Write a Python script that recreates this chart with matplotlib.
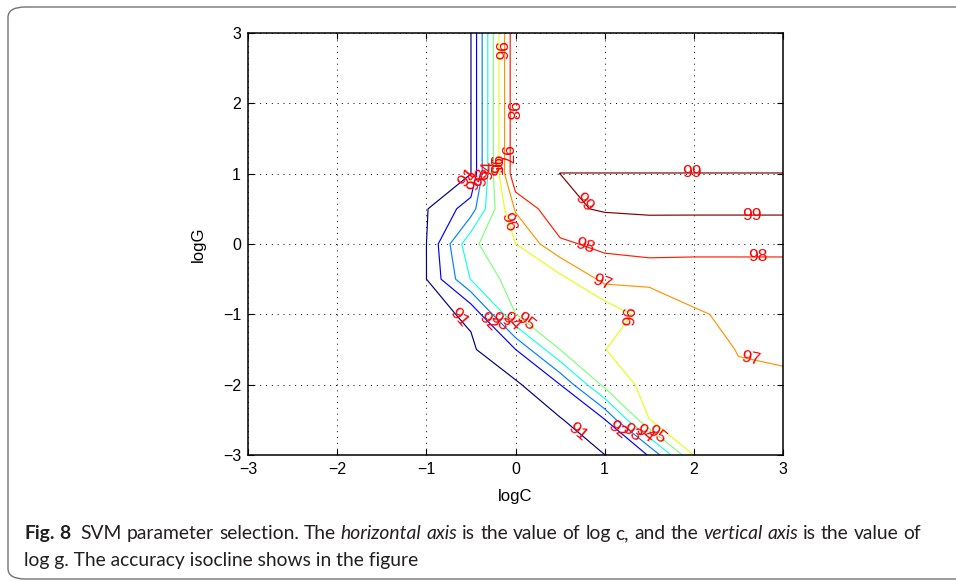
import numpy as np
import matplotlib.pyplot as plt
from matplotlib.patches import FancyBboxPatch

log_c = [-3.0, -2.5, -2.0, -1.5, -1.0, -0.5, 0.0, 0.5, 1.0, 1.5, 2.0, 2.5, 3.0]
log_g = [-3.0, -2.5, -2.0, -1.5, -1.0, -0.5, 0.0, 0.5, 1.0, 1.5, 2.0, 2.5, 3.0]

# accuracy (%) on the grid, one row per logG value (bottom to top)
acc_g_m30 = [85.5, 86.0, 86.5, 87.0, 88.0, 89.0, 89.8, 90.5, 90.99, 92.05, 96.02, 96.4, 96.5]
acc_g_m25 = [86.0, 86.5, 87.0, 87.5, 88.5, 89.5, 90.3, 90.92, 91.95, 95.99, 96.3, 96.6, 96.7]
acc_g_m20 = [86.5, 87.0, 87.5, 88.0, 89.0, 90.0, 90.84, 91.99, 95.3, 96.33, 96.5, 96.8, 96.89]
acc_g_m15 = [87.0, 87.5, 88.0, 89.0, 90.0, 90.86, 91.99, 95.01, 95.99, 96.3, 96.43, 97.05, 97.1]
acc_g_m10 = [87.5, 88.0, 88.5, 89.5, 90.73, 91.14, 94.99, 95.4, 95.21, 96.5, 96.9, 97.18, 97.2]
acc_g_m05 = [88.0, 88.5, 89.0, 90.0, 90.99, 94.05, 95.51, 95.68, 97.29, 97.15, 97.4, 97.4, 97.4]
acc_g_00 = [88.0, 88.5, 89.0, 90.0, 90.99, 94.78, 95.99, 97.82, 98.25, 98.55, 98.35, 98.35, 98.35]
acc_g_05 = [88.0, 88.5, 89.0, 90.0, 90.94, 92.5, 97.12, 98.84, 99.083, 99.1, 99.14, 99.14, 99.14]
acc_g_10 = [88.0, 88.5, 89.0, 89.5, 90.2, 90.99, 98.95, 99.001, 99.001, 99.001, 99.001, 99.001, 99.001]
acc_g_15 = [88.0, 88.5, 89.0, 89.5, 90.2, 90.99, 98.95, 98.95, 98.95, 98.95, 98.95, 98.95, 98.95]
acc_g_20 = [88.0, 88.5, 89.0, 89.5, 90.2, 90.99, 98.95, 98.95, 98.95, 98.95, 98.95, 98.95, 98.95]
acc_g_25 = [88.0, 88.5, 89.0, 89.5, 90.2, 90.99, 98.95, 98.95, 98.95, 98.95, 98.95, 98.95, 98.95]
acc_g_30 = [88.0, 88.5, 89.0, 89.5, 90.2, 90.99, 98.95, 98.95, 98.95, 98.95, 98.95, 98.95, 98.95]

levels = [91, 92, 93, 94, 95, 96, 97, 98, 99]
ticks = [-3, -2, -1, 0, 1, 2, 3]

# where the level labels sit (logC, logG)
label_pos = [
    (-0.55, 0.95), (-0.46, 0.9), (-0.385, 0.95), (-0.311, 1.05), (-0.248, 1.1), (-0.186, 1.15), (-0.118, 1.27),
    (-0.186, 2.75), (-0.06, 1.9),
    (-0.64, -1.05), (-0.31, -1.1), (-0.18, -1.1), (-0.05, -1.1), (0.1, -1.12),
    (-0.077, 0.32), (0.78, -0.03), (0.77, 0.6),
    (0.97, -0.55), (1.29, -1.03),
    (0.70, -2.67), (1.15, -2.64), (1.3, -2.68), (1.44, -2.7), (1.58, -2.71),
    (2.63, -1.64), (2.72, -0.18), (2.65, 0.41), (1.98, 1.01),
]

Z = np.array([acc_g_m30, acc_g_m25, acc_g_m20, acc_g_m15, acc_g_m10, acc_g_m05, acc_g_00,
              acc_g_05, acc_g_10, acc_g_15, acc_g_20, acc_g_25, acc_g_30])

plt.rcParams['font.family'] = ['Liberation Sans', 'DejaVu Sans']

fig = plt.figure(figsize=(9.56, 5.81), dpi=100)
ax = fig.add_axes([248 / 956, 1 - 455 / 581, 535 / 956, 422 / 581])

cs = ax.contour(log_c, log_g, Z, levels=levels, cmap='jet', linewidths=0.85)
ax.clabel(cs, levels, inline=False, manual=label_pos, fmt='%d', colors='red', fontsize=12.5)

ax.set_xlim(-3, 3)
ax.set_ylim(-3, 3)
ax.set_xticks(ticks)
ax.set_yticks(ticks)
ax.grid(True, color='k', linestyle=(0, (1, 5)), linewidth=0.7)
ax.tick_params(direction='in', top=True, right=True, length=4, width=0.8, labelsize=11.5, pad=5)
for s in ax.spines.values():
    s.set_linewidth(1.1)
ax.set_xlabel('logC', fontsize=12, labelpad=9)
ax.set_ylabel('logG', fontsize=12, labelpad=12)

# frame around the figure card (right side runs off the picture)
frame = FancyBboxPatch((8 / 956, 1 - 579 / 581), 980 / 956, 572 / 581,
                       boxstyle='round,pad=0,rounding_size=0.018', transform=fig.transFigure,
                       fill=False, edgecolor='0.45', linewidth=1.0, clip_on=False)
fig.patches.append(frame)

# caption with mixed styles, first line justified
r = fig.canvas.get_renderer()


def width_px(s, kw):
    t = fig.text(0, 0, s, **kw)
    w = t.get_window_extent(renderer=r).width
    t.remove()
    return w


line2 = 'log g. The accuracy isocline shows in the figure'
cap_size = 12.0 * 396 / width_px(line2, dict(family='Lato', fontsize=12.0))
reg = dict(family='Lato', fontsize=cap_size, color='#231f20')
bold = dict(reg, weight='bold')
ital = dict(reg, style='italic')

space = width_px('x x', reg) - width_px('xx', reg)
words = [('Fig.', bold), ('8', bold)]
words += [(w, reg) for w in 'SVM parameter selection. The'.split()]
words += [(w, ital) for w in 'horizontal axis'.split()]
words += [(w, reg) for w in 'is the value of log c, and the'.split()]
words += [(w, ital) for w in 'vertical axis'.split()]
words += [(w, reg) for w in 'is the value of'.split()]
widths = [width_px(w, kw) for w, kw in words]
x0, x1 = 24.0, 921.0
gap = (x1 - x0 - sum(widths) - space) / (len(words) - 1)
gap = max(min(gap, 1.6 * space), 0.8 * space)
x = x0
for i, ((w, kw), wd) in enumerate(zip(words, widths)):
    fig.text(x / 956, 1 - 539 / 581, w, va='baseline', **kw)
    x += wd + gap + (space if i == 1 else 0)
fig.text(x0 / 956, 1 - 566 / 581, line2, va='baseline', **reg)

fig.savefig('out.png', dpi=100)
